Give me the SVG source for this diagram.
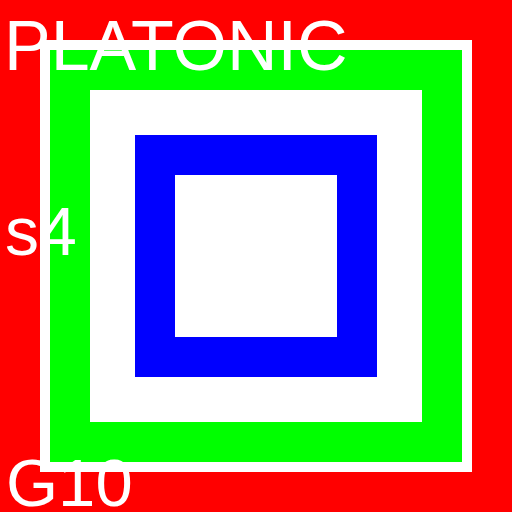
<svg xmlns="http://www.w3.org/2000/svg" width="512" height="512" viewBox="0 0 512 512">
<style>
text{font-family:"Liberation Sans",Arial,sans-serif;font-size:67px;fill:#fff}
</style>
<rect id="background" x="0" y="0" width="512" height="512" fill="#ff0000"/>
<g id="outer">
<rect x="45" y="45" width="422" height="422" fill="#00ff00" stroke="#fff" stroke-width="10"/>
</g>
<g id="middle">
<rect x="90" y="90" width="332" height="332" fill="#fff"/>
</g>
<g id="inner">
<rect x="155" y="155" width="202" height="202" fill="#fff" stroke="#0000ff" stroke-width="40"/>
</g>
<g id="connectors"/>
<g id="labels">
<text x="4" y="70" style="font-size:70px">PLATONIC</text>
<text x="5" y="255" style="font-size:68px">s4</text>
<text x="6" y="506">G10</text>
</g>
</svg>
